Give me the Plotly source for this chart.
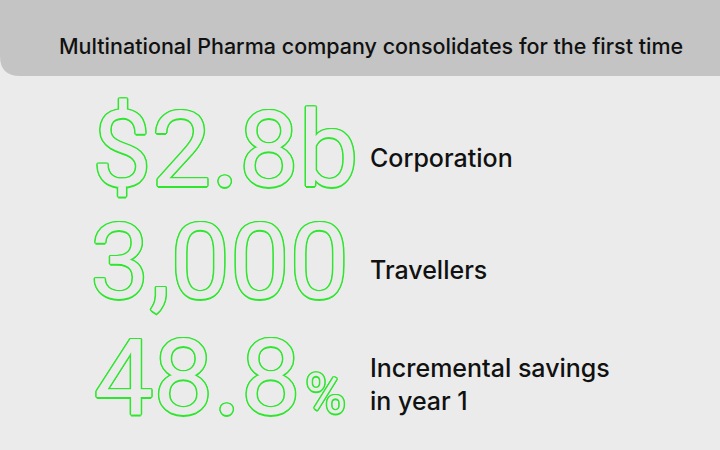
import plotly.graph_objects as go

title = "Multinational Pharma company consolidates for the first time"
figures = ["$2.8b", "3,000", "48.8"]
suffixes = ["", "", "%"]
labels = ["Corporation", "Travellers", "Incremental savings<br>in year 1"]

BG = "#ebebeb"
GREEN = "#2ee62e"
W, H = 720, 450

# outline effect: text in background colour with green shadows around it
offs = [(-1.5, 0), (1.5, 0), (0, -1.5), (0, 1.5), (-1, -1), (1, 1), (-1, 1), (1, -1)]
outline = ", ".join(f"{dx}px {dy}px 0 {GREEN}" for dx, dy in offs)


def py(v):
    return 1 - v / H


fig = go.Figure()
fig.update_layout(
    width=W, height=H, margin=dict(l=0, r=0, t=0, b=0),
    paper_bgcolor=BG, plot_bgcolor=BG,
    xaxis=dict(visible=False, range=[0, 1]), yaxis=dict(visible=False, range=[0, 1]),
    showlegend=False,
)

fig.add_shape(type="path", xref="paper", yref="paper",
              path=f"M 0 1 L 1 1 L 1 {py(76)} L {20/W} {py(76)} Q 0 {py(76)} 0 {py(56)} Z",
              fillcolor="#c4c4c4", line_width=0, layer="below")

fig.add_annotation(x=57 / W, y=py(46), xref="paper", yref="paper", text=title,
                   showarrow=False, xanchor="left", yanchor="middle",
                   font=dict(family="Inter", size=21.5, color="#111", weight=500))

num_x = [90, 88, 92]
num_y = [150, 262, 378]
lab_y = [158, 270, 384]
for i, (f, s, lab) in enumerate(zip(figures, suffixes, labels)):
    fig.add_annotation(x=num_x[i] / W, y=py(num_y[i]), xref="paper", yref="paper",
                       text=f, showarrow=False, xanchor="left", yanchor="middle",
                       font=dict(family="Roboto", size=106, color=BG, shadow=outline))
    if s:
        fig.add_annotation(x=303 / W, y=py(394), xref="paper", yref="paper",
                           text=s, showarrow=False, xanchor="left", yanchor="middle",
                           font=dict(family="Roboto", size=56, color=BG, shadow=outline))
    fig.add_annotation(x=368 / W, y=py(lab_y[i]), xref="paper", yref="paper",
                       text=lab, showarrow=False, xanchor="left", yanchor="middle", align="left",
                       font=dict(family="Inter", size=25, color="#111", weight=500))

fig.write_html("out.html", config={"displayModeBar": False},
               post_script="document.body.style.margin='0';")
